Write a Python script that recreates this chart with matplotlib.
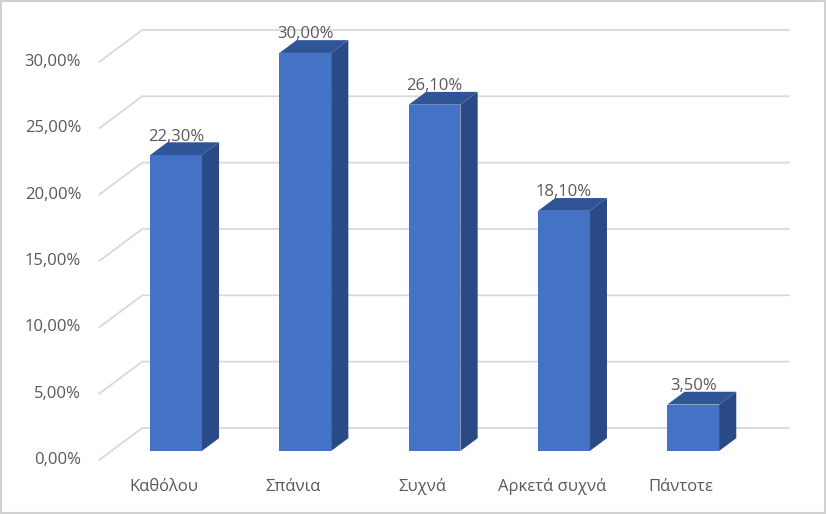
import matplotlib.pyplot as plt
from matplotlib.patches import Polygon, Rectangle

# =========================
# data
# =========================
categories = ['Καθόλου', 'Σπάνια', 'Συχνά', 'Αρκετά συχνά', 'Πάντοτε']
values = [22.3, 30.0, 26.1, 18.1, 3.5]
yticks = [0, 5, 10, 15, 20, 25, 30]

# =========================
# 3D look (oblique shift for one full depth unit, in data units)
# =========================
DX, DY = 0.3326, 2.41
F_FRONT, F_BAR, F_BACK = -0.28, 0.40, 0.72
BAR_W = 0.40

FRONT_C = '#4472c4'
TOP_C = '#2f5597'
SIDE_C = '#2a4a85'
GRID_C = '#d9d9d9'
TEXT_C = '#595959'
FS = 12

plt.rcParams['font.family'] = ['Open Sans', 'DejaVu Sans']


def proj(x, y, f):
    return (x + f * DX, y + f * DY)


fig = plt.figure(figsize=(8.26, 5.14), dpi=100)
ax = fig.add_axes([0, 0, 1, 1])
ax.set_xlim(-1.361, 5.027)
ax.set_ylim(-4.75, 33.99)
ax.axis('off')

x_left, x_right = -0.5, len(categories) - 0.5

# gridlines: left side wall diagonal + back wall
for t in yticks:
    p0 = proj(x_left, t, F_FRONT)
    p1 = proj(x_left, t, F_BACK)
    p2 = proj(x_right, t, F_BACK)
    ax.plot([p0[0], p1[0], p2[0]], [p0[1], p1[1], p2[1]],
            color=GRID_C, lw=1.3, zorder=1, solid_joinstyle='miter')
    tx, ty = proj(x_left, t, F_FRONT)
    ax.text(tx - 0.14, ty, f'{t:.2f}%'.replace('.', ','), ha='right',
            va='center', fontsize=FS, color=TEXT_C)

# bars
for i, v in enumerate(values):
    x0, x1 = i - BAR_W / 2, i + BAR_W / 2
    side = [(x1, 0), (x1, v), proj(x1, v, F_BAR), proj(x1, 0, F_BAR)]
    top = [(x0, v), (x1, v), proj(x1, v, F_BAR), proj(x0, v, F_BAR)]
    ax.add_patch(Polygon(side, closed=True, facecolor=SIDE_C, edgecolor='none', zorder=3))
    ax.add_patch(Polygon(top, closed=True, facecolor=TOP_C, edgecolor='none', zorder=3))
    ax.add_patch(Rectangle((x0, 0), BAR_W, v, facecolor=FRONT_C, edgecolor='none', zorder=4))
    ax.text(i, v + 1.4, f'{v:.2f}%'.replace('.', ','), ha='center', va='center',
            fontsize=FS, color=TEXT_C, zorder=5)

# category labels on the front plane
for i, c in enumerate(categories):
    cx, _ = proj(i, 0, F_FRONT)
    ax.text(cx, -2.71, c, ha='center', va='center', fontsize=FS, color=TEXT_C)

# outer frame
fig.add_artist(Rectangle((0, 0), 1, 1, transform=fig.transFigure, fill=False,
                         edgecolor='#d0d0d0', lw=3))

fig.savefig('out.png', dpi=100)
